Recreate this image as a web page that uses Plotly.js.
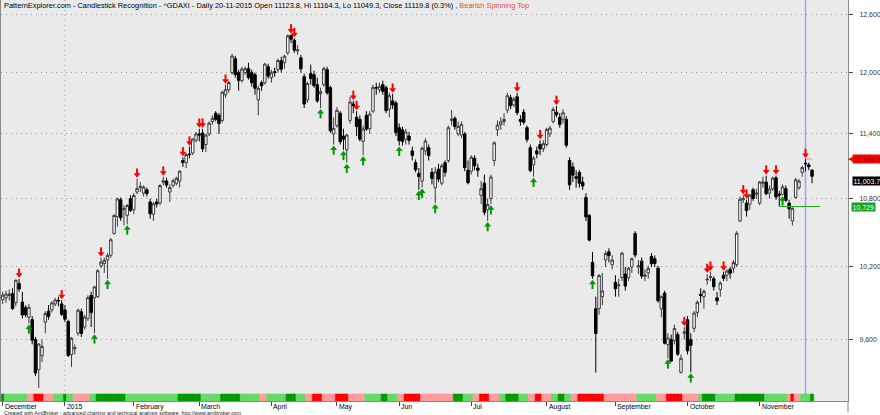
<!DOCTYPE html>
<html><head><meta charset="utf-8">
<script src="https://cdn.plot.ly/plotly-3.0.1.min.js"></script>
<style>html,body{margin:0;padding:0;background:#fff}#chart{width:880px;height:415px}</style>
</head><body><div id="chart"></div>
<script>
const dates = [
'2014-12-01','2014-12-02','2014-12-03','2014-12-04','2014-12-05','2014-12-08','2014-12-09','2014-12-10','2014-12-11','2014-12-12','2014-12-15','2014-12-16','2014-12-17','2014-12-18','2014-12-19','2014-12-22','2014-12-23','2014-12-29','2014-12-30',
'2015-01-02','2015-01-05','2015-01-06','2015-01-07','2015-01-08','2015-01-09','2015-01-12','2015-01-13','2015-01-14','2015-01-15','2015-01-16','2015-01-19','2015-01-20','2015-01-21','2015-01-22','2015-01-23','2015-01-26','2015-01-27','2015-01-28','2015-01-29','2015-01-30',
'2015-02-02','2015-02-03','2015-02-04','2015-02-05','2015-02-06','2015-02-09','2015-02-10','2015-02-11','2015-02-12','2015-02-13','2015-02-16','2015-02-17','2015-02-18','2015-02-19','2015-02-20','2015-02-23','2015-02-24','2015-02-25','2015-02-26','2015-02-27',
'2015-03-02','2015-03-03','2015-03-04','2015-03-05','2015-03-06','2015-03-09','2015-03-10','2015-03-11','2015-03-12','2015-03-13','2015-03-16','2015-03-17','2015-03-18','2015-03-19','2015-03-20','2015-03-23','2015-03-24','2015-03-25','2015-03-26','2015-03-27','2015-03-30','2015-03-31',
'2015-04-01','2015-04-02','2015-04-07','2015-04-08','2015-04-09','2015-04-10','2015-04-13','2015-04-14','2015-04-15','2015-04-16','2015-04-17','2015-04-20','2015-04-21','2015-04-22','2015-04-23','2015-04-24','2015-04-27','2015-04-28','2015-04-29','2015-04-30',
'2015-05-04','2015-05-05','2015-05-06','2015-05-07','2015-05-08','2015-05-11','2015-05-12','2015-05-13','2015-05-14','2015-05-15','2015-05-18','2015-05-19','2015-05-20','2015-05-21','2015-05-22','2015-05-26','2015-05-27','2015-05-28','2015-05-29',
'2015-06-01','2015-06-02','2015-06-03','2015-06-04','2015-06-05','2015-06-08','2015-06-09','2015-06-10','2015-06-11','2015-06-12','2015-06-15','2015-06-16','2015-06-17','2015-06-18','2015-06-19','2015-06-22','2015-06-23','2015-06-24','2015-06-25','2015-06-26','2015-06-29','2015-06-30',
'2015-07-01','2015-07-02','2015-07-03','2015-07-06','2015-07-07','2015-07-08','2015-07-09','2015-07-10','2015-07-13','2015-07-14','2015-07-15','2015-07-16','2015-07-17','2015-07-20','2015-07-21','2015-07-22','2015-07-23','2015-07-24','2015-07-27','2015-07-28','2015-07-29','2015-07-30','2015-07-31',
'2015-08-03','2015-08-04','2015-08-05','2015-08-06','2015-08-07','2015-08-10','2015-08-11','2015-08-12','2015-08-13','2015-08-14','2015-08-17','2015-08-18','2015-08-19','2015-08-20','2015-08-21','2015-08-24','2015-08-25','2015-08-26','2015-08-27','2015-08-28','2015-08-31',
'2015-09-01','2015-09-02','2015-09-03','2015-09-04','2015-09-07','2015-09-08','2015-09-09','2015-09-10','2015-09-11','2015-09-14','2015-09-15','2015-09-16','2015-09-17','2015-09-18','2015-09-21','2015-09-22','2015-09-23','2015-09-24','2015-09-25','2015-09-28','2015-09-29','2015-09-30',
'2015-10-01','2015-10-02','2015-10-05','2015-10-06','2015-10-07','2015-10-08','2015-10-09','2015-10-12','2015-10-13','2015-10-14','2015-10-15','2015-10-16','2015-10-19','2015-10-20','2015-10-21','2015-10-22','2015-10-23','2015-10-26','2015-10-27','2015-10-28','2015-10-29','2015-10-30',
'2015-11-02','2015-11-03','2015-11-04','2015-11-05','2015-11-06','2015-11-09','2015-11-10','2015-11-11','2015-11-12','2015-11-13','2015-11-16','2015-11-17','2015-11-18','2015-11-19','2015-11-20','2015-11-23','2015-11-24'
];

const open = [
9925,9940,9960,9975,9900,10060,9905,9860,9780,9760,9600,9360,9470,9740,9830,9840,9890,9920,9890,
9840,9745,9480,9525,9650,9825,9700,9770,9960,9940,9950,10210,10230,10260,10300,10490,10640,10790,10700,10650,10800,
10700,10860,10900,10850,10880,10770,10660,10770,10760,10950,10960,10860,10920,10940,10960,11150,11130,11210,11220,11340,
11400,11410,11300,11400,11520,11600,11580,11530,11780,11830,12000,12140,12000,11920,12000,12040,12000,11980,11730,11900,11900,12060,
11950,12010,12030,12120,12100,12200,12380,12330,12220,12150,11960,11730,11990,11980,11880,11790,11880,12030,11850,11400,
11480,11600,11380,11250,11530,11690,11560,11540,11330,11580,11450,11620,11850,11830,11880,11850,11640,11720,11700,
11460,11440,11350,11380,11240,11130,11030,10960,11240,11270,11040,10900,11070,10940,11130,11150,11530,11550,11400,11390,11400,11060,
11050,11170,11080,10830,10940,10700,10800,11150,11440,11490,11520,11630,11750,11680,11760,11540,11610,11460,11270,11110,11240,11300,11260,
11300,11400,11520,11610,11560,11540,11540,11150,11090,11000,11040,10950,10810,10650,10240,9850,9850,9950,10260,10330,10220,
10070,10040,10110,10140,10110,10200,10490,10200,10250,10120,10150,10290,10270,10190,9850,9980,9560,9600,9590,9640,9340,9650,
9760,9600,9690,9820,9970,9950,10090,10110,10100,9940,10010,10130,10130,10180,10190,10220,10600,10790,10760,10750,10880,10840,
10760,10940,10950,10850,10890,10990,10840,10840,10890,10760,10600,10810,10900,11040,11123.8,11110,11060
];

const high = [
9990,10000,10010,10020,10093,10100,9990,9880,9890,9790,9620,9570,9600,9830,9880,9910,9940,9950,9920,
9880,9760,9620,9560,9850,9850,9800,9960,9990,10040,10180,10280,10280,10320,10450,10660,10810,10810,10740,10750,10830,
10850,10980,10950,10920,10900,10800,10770,10800,10930,11000,10990,10930,10980,11000,11060,11180,11220,11280,11360,11420,
11450,11450,11400,11520,11580,11620,11600,11820,11880,11920,12190,12170,12030,12060,12060,12100,12030,12000,11870,11920,12100,12090,
12030,12050,12140,12160,12180,12390,12390,12350,12280,12180,11990,11910,12080,12020,11950,11850,12060,12060,11870,11560,
11660,11620,11450,11400,11760,11720,11620,11580,11480,11620,11620,11880,11900,11900,11920,11870,11800,11790,11720,
11500,11470,11450,11420,11280,11160,11080,11280,11360,11300,11080,11090,11120,11120,11150,11480,11630,11570,11520,11520,11420,11150,
11200,11200,11120,10960,11020,10800,11020,11330,11530,11560,11600,11800,11780,11760,11800,11580,11640,11480,11300,11190,11280,11340,11340,
11460,11480,11660,11670,11600,11640,11570,11180,11130,11060,11060,11000,10850,10660,10330,9950,10140,10150,10340,10360,10300,
10130,10100,10330,10200,10200,10280,10510,10260,10280,10180,10210,10320,10300,10210,9960,10000,9650,9640,9720,9660,9480,9700,
9790,9650,9830,9920,10020,10010,10140,10160,10120,9990,10080,10160,10180,10200,10260,10510,10820,10830,10790,10840,10900,10890,
10960,11000,11010,10920,11000,11010,10870,10930,10920,10790,10720,10990,10980,11100,11164.3,11130,11070
];

const low = [
9890,9900,9920,9840,9870,9990,9770,9780,9730,9560,9310,9219,9420,9650,9760,9820,9870,9870,9790,
9740,9460,9382,9480,9630,9620,9680,9750,9700,9650,9940,10190,10150,10100,10280,10480,10550,10600,10560,10570,10680,
10660,10840,10860,10820,10820,10620,10600,10720,10740,10920,10900,10770,10900,10920,10900,11090,11080,11170,11200,11320,
11330,11230,11230,11380,11490,11520,11400,11510,11750,11800,11980,11950,11820,11900,11980,11930,11860,11780,11580,11820,11880,11940,
11900,11960,12000,12000,12040,12180,12300,12200,12180,12000,11650,11700,11880,11850,11700,11650,11860,11780,11410,11300,
11460,11300,11250,11130,11500,11600,11380,11330,11200,11430,11400,11600,11780,11800,11780,11600,11560,11640,11380,
11290,11290,11300,11300,11150,11040,10880,10900,11200,11150,10930,10760,10950,10920,11000,11130,11480,11440,11380,11360,11050,10930,
11020,11060,11000,10750,10650,10600,10750,11100,11380,11440,11480,11600,11640,11660,11580,11480,11490,11320,11040,11000,11170,11200,11230,
11280,11370,11500,11560,11460,11500,11270,10880,10950,10900,10900,10880,10600,10420,10100,9338,9800,9880,10200,10240,10180,
9950,9950,10080,10000,10080,10150,10280,10140,10100,10080,10100,10200,10200,9900,9780,9560,9450,9420,9560,9470,9330,9600,
9480,9340,9660,9780,9900,9850,10050,10080,10000,9880,9950,10080,10080,10100,10150,10200,10590,10760,10640,10700,10780,10800,
10740,10900,10830,10800,10870,10790,10729,10830,10770,10620,10560,10800,10880,11000,11049.3,11060,10940
];

const close = [
9963,9972,9971,9851,10087,10014,9799,9800,9862,9594,9335,9563,9544,9811,9787,9898,9922,9915,9805,
9764,9473,9610,9535,9838,9648,9782,9941,9818,10032,10168,10242,10257,10299,10435,10649,10798,10628,10710,10738,10694,
10828,10891,10911,10905,10846,10664,10753,10752,10919,10963,10924,10900,10963,10985,11050,11131,11206,11205,11352,11401,
11390,11260,11390,11504,11550,11540,11500,11806,11830,11901,12167,11980,11922,12036,12040,11950,11900,11844,11843,11868,12086,11966,
11998,12001,12123,12035,12166,12375,12339,12228,12231,12039,11689,11892,11940,11870,11720,11811,12040,11800,11430,11454,
11628,11327,11350,11390,11709,11673,11472,11351,11447,11447,11591,11853,11848,11864,11815,11625,11771,11680,11413,
11336,11328,11419,11340,11197,11064,11001,11265,11333,11196,10984,11044,10978,11100,11040,11460,11542,11471,11473,11492,11083,10945,
11180,11099,11059,10890,10676,10747,10997,11316,11485,11517,11540,11770,11673,11735,11604,11520,11512,11347,11056,11173,11212,11257,11308,
11444,11456,11636,11585,11490,11604,11293,10925,11014,10985,10940,10915,10636,10432,10124,9648,10128,9997,10315,10298,10259,
10016,10048,10318,10038,10190,10271,10303,10210,10123,10131,10188,10227,10229,9916,9949,9570,9612,9428,9688,9483,9450,9660,
9509,9553,9814,9903,9960,9995,10096,10119,10033,9915,10064,10104,10165,10147,10238,10492,10794,10801,10692,10832,10801,10850,
10951,10951,10845,10887,10988,10815,10832,10907,10783,10708,10713,10971,10960,11085,11119.8,11092,11003.7
];

// bottom ribbon: G dark green, g light green, R red, r pink (run lengths read from the strip)
const bandRuns = [['G',1],['g',7],['r',2],['R',3],['r',3],['g',3],['G',1],['g',2],['r',5],['g',2],['G',9],['g',16],['G',7],['g',6],['G',6],['g',6],['r',2],['g',6],['G',3],['g',3],['r',2],['R',3],['r',4],['R',4],['r',5],['g',5],['G',2],['g',3],['r',2],['R',5],['r',10],['G',3],['g',3],['r',2],['R',3],['r',3],['g',2],['G',4],['g',3],['r',2],['R',2],['r',3],['g',2],['G',2],['g',2],['r',2],['R',8],['r',10],['g',6],['r',3],['R',5],['r',5],['g',1],['G',4],['g',6],['G',9],['g',7],['r',1],['R',1],['r',2],['g',3],['G',1]];

const redArrowDates = ['2014-12-08','2014-12-30','2015-01-19','2015-02-03','2015-02-13','2015-02-23','2015-02-25','2015-03-02','2015-03-03','2015-03-12','2015-04-13','2015-04-14','2015-05-11','2015-05-12','2015-05-28','2015-07-21','2015-07-30','2015-08-06','2015-09-30','2015-10-09','2015-10-12','2015-10-16','2015-10-26','2015-10-27','2015-11-04','2015-11-09','2015-11-20'];
const greenArrowDates = ['2014-12-11','2015-01-15','2015-01-21','2015-01-29','2015-04-24','2015-04-30','2015-05-06','2015-05-07','2015-05-14','2015-06-01','2015-06-09','2015-06-10','2015-06-16','2015-07-08','2015-07-09','2015-07-28','2015-08-21','2015-09-23','2015-10-02','2015-11-11'];

const monthTickDates = ['2014-12-01','2015-01-02','2015-02-02','2015-03-02','2015-04-01','2015-05-04','2015-06-01','2015-07-01','2015-08-03','2015-09-01','2015-10-01','2015-11-02'];
const monthTickLabels = ['December','2015','February','March','April','May','Jun','Jul','August','September','October','November'];

const yTickVals = [9600,10200,10800,11400,12000,12600];
const yTickText = ['9,600','10,200','10,800','11,400','12,000','12,600'];

const selectedDate = '2015-11-20';
const patternName = 'Bearish Spinning Top';
const supportLevel = 10729, supportFrom = '2015-11-10';

// ---------- build ----------
const N = dates.length;
const xs = dates.map((d, i) => i);
const idx = d => dates.indexOf(d);
const FONT = '"Liberation Sans",Arial,sans-serif';

const W = 880, H = 415, M = {l: 1, r: 32, t: 0, b: 14};
const plotH = H - M.t - M.b;
const yBot = 9118.5, yTop = 12751.7;
const xMin = -0.52, xMax = 257.97;
const pxPerLn = plotH / (Math.log(yTop) - Math.log(yBot));
const up = px => Math.exp(px / pxPerLn);

const bandCodes = [];
bandRuns.forEach(([c, n]) => { for (let k = 0; k < n; k++) bandCodes.push(c); });
const bandColor = {G: '#009a00', g: '#66d966', R: '#ff0000', r: '#ff9c9c'};

const sel = idx(selectedDate);
const redIdx = redArrowDates.map(idx);
const greenIdx = greenArrowDates.map(idx);

const traces = [
  {type: 'candlestick', x: xs, open: open, high: high, low: low, close: close,
   increasing: {line: {color: '#3a3a3a', width: 1}, fillcolor: '#ffffff'},
   decreasing: {line: {color: '#000000', width: 1}, fillcolor: '#000000'},
   whiskerwidth: 0, hoverinfo: 'none', showlegend: false},
  {type: 'bar', x: xs, y: xs.map(() => 1), width: 1, yaxis: 'y2',
   marker: {color: bandCodes.map(c => bandColor[c]), line: {color: bandCodes.map(c => bandColor[c]), width: 0.6}},
   hoverinfo: 'none', showlegend: false},
  // red down arrows (head + stem)
  {type: 'scatter', mode: 'markers', x: redIdx, y: redIdx.map(i => high[i] * up(4)),
   marker: {symbol: 'triangle-down', size: 6, color: '#ff0000', line: {width: 0}}, hoverinfo: 'none', showlegend: false},
  {type: 'scatter', mode: 'markers', x: redIdx, y: redIdx.map(i => high[i] * up(7.5)),
   marker: {symbol: 'line-ns', size: 4, line: {color: '#ff0000', width: 2}}, hoverinfo: 'none', showlegend: false},
  // green up arrows
  {type: 'scatter', mode: 'markers', x: greenIdx, y: greenIdx.map(i => low[i] / up(4)),
   marker: {symbol: 'triangle-up', size: 6, color: '#009a00', line: {width: 0}}, hoverinfo: 'none', showlegend: false},
  {type: 'scatter', mode: 'markers', x: greenIdx, y: greenIdx.map(i => low[i] / up(7.5)),
   marker: {symbol: 'line-ns', size: 4, line: {color: '#009a00', width: 2}}, hoverinfo: 'none', showlegend: false},
  // support level line
  {type: 'scatter', mode: 'lines', x: [idx(supportFrom), N + 1.5], y: [supportLevel, supportLevel],
   line: {color: '#22aa22', width: 1}, hoverinfo: 'none', showlegend: false},
  // selected bar high level
  {type: 'scatter', mode: 'lines', x: [sel, N - 1], y: [high[sel], high[sel]],
   line: {color: '#ff8080', width: 1}, hoverinfo: 'none', showlegend: false}
];

const fmt = (v, d) => v.toLocaleString('en-US', {minimumFractionDigits: d, maximumFractionDigits: d});
const pct = ((close[sel] - close[sel - 1]) / close[sel - 1] * 100).toFixed(1);
const dparts = selectedDate.split('-');
const titleText = 'PatternExplorer.com - Candlestick Recognition - ^GDAXI - Daily ' + dparts[2] + '-' + dparts[1] + '-' + dparts[0] +
  ' Open ' + open[sel].toFixed(1) + ', Hi ' + high[sel].toFixed(1) + ', Lo ' + low[sel].toFixed(1) + ', Close ' + close[sel].toFixed(1) +
  ' (' + pct + '%) , <span style="color:#e8501e">' + patternName + '</span>';

const annotations = [
  {xref: 'paper', yref: 'paper', x: 0, y: 1, xanchor: 'left', yanchor: 'top', xshift: 1, yshift: 1, showarrow: false,
   text: titleText, font: {family: FONT, size: 7.4, color: '#000'}},
  {xref: 'paper', yref: 'paper', x: 0, y: 0, xanchor: 'left', yanchor: 'top', xshift: 1, yshift: -7, showarrow: false,
   text: 'Created with AmiBroker - advanced charting and technical analysis software. http://www.amibroker.com', font: {family: FONT, size: 5.2, color: '#222'}}
];
monthTickDates.forEach((d, k) => annotations.push({
  xref: 'x', yref: 'paper', x: idx(d), y: 0, xanchor: 'left', yanchor: 'top', xshift: 0, yshift: 0, showarrow: false,
  text: monthTickLabels[k], font: {family: FONT, size: 6.9, color: '#000'}}));
// pointer of the red price label
annotations.push({xref: 'paper', yref: 'y', x: 1, y: Math.log10(high[sel]), xanchor: 'left', yanchor: 'middle', xshift: -1, showarrow: false,
  text: '\u25C0', font: {family: '"DejaVu Sans",sans-serif', size: 7, color: '#ff0000'}, borderpad: 0});
annotations.push({xref: 'paper', yref: 'y', x: 1, y: Math.log10(high[sel]), xanchor: 'left', yanchor: 'middle', xshift: 4, showarrow: false,
  text: fmt(high[sel], 1), font: {family: FONT, size: 7, color: '#3a0000'}, bgcolor: '#ff0000', borderpad: 0.5});
annotations.push({xref: 'paper', yref: 'y', x: 1, y: Math.log10(close[N - 1]), xanchor: 'left', yanchor: 'middle', xshift: 4, yshift: -5, showarrow: false,
  text: fmt(close[N - 1], 1), font: {family: FONT, size: 7, color: '#ffffff'}, bgcolor: '#000000', borderpad: 0.5});
annotations.push({xref: 'paper', yref: 'y', x: 1, y: Math.log10(supportLevel), xanchor: 'left', yanchor: 'middle', xshift: 3, showarrow: false,
  text: fmt(supportLevel, 0), font: {family: FONT, size: 7, color: '#ffffff'}, bgcolor: '#1aa01a', borderpad: 0.5});

const layout = {
  width: W, height: H, margin: M, paper_bgcolor: '#ffffff', plot_bgcolor: '#eaeaea', showlegend: false,
  boxgap: 0.25, boxgroupgap: 0,
  xaxis: {range: [xMin, xMax], showgrid: false, zeroline: false, tickvals: monthTickDates.map(idx), ticks: 'outside', ticklen: 4,
          tickcolor: '#444', showticklabels: false, showline: true, linecolor: '#8a8a8a', mirror: true,
          rangeslider: {visible: false}, fixedrange: true},
  yaxis: {type: 'log', range: [Math.log10(yBot), Math.log10(yTop)], side: 'right', tickvals: yTickVals, ticktext: yTickText,
          ticks: 'outside', ticklen: 4, tickcolor: '#444', tickfont: {family: FONT, size: 7, color: '#333'}, ticklabelstandoff: 5,
          showgrid: true, gridcolor: '#9a9a9a', griddash: '1px,4px', showline: true, linecolor: '#8a8a8a', mirror: true,
          zeroline: false, fixedrange: true},
  yaxis2: {overlaying: 'y', range: [0, plotH / 7], visible: false, fixedrange: true},
  shapes: [
    {type: 'line', xref: 'x', yref: 'paper', x0: idx('2015-01-02'), x1: idx('2015-01-02'), y0: 0, y1: 1,
     line: {color: '#9a9a9a', width: 1, dash: '1px,4px'}, layer: 'below'},
    {type: 'line', xref: 'x', yref: 'paper', x0: sel, x1: sel, y0: 0, y1: 1,
     line: {color: '#a0a0ff', width: 1.5}, layer: 'below'},
    {type: 'line', xref: 'paper', yref: 'paper', x0: 1, x1: 1, y0: -0.028, y1: 0,
     line: {color: '#8a8a8a', width: 1}}
  ],
  annotations: annotations
};

Plotly.newPlot('chart', traces, layout, {staticPlot: true, displayModeBar: false});
</script>
</body></html>
